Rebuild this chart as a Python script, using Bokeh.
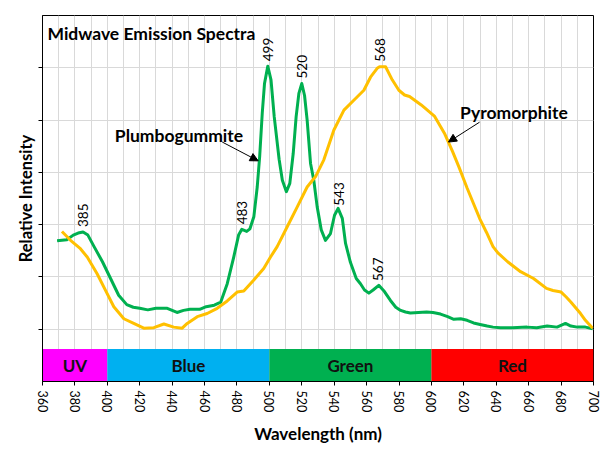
import numpy as np
from bokeh.plotting import figure
from bokeh.models import ColumnDataSource, FixedTicker, Label, Arrow, NormalHead
from bokeh.core.properties import value
from bokeh.embed import file_html
from bokeh.resources import INLINE

# ---------------- data ----------------
plumb_nm = [369, 372, 375, 379, 382, 385, 388, 392, 397, 402, 407, 412, 416, 420, 425,
            430, 437, 443, 447, 451, 457, 461, 466, 470, 474, 478, 481, 483, 486, 488,
            490.4, 492.5, 494, 495.6, 497, 499, 501, 503, 506, 508, 510.5, 512.6, 514.7,
            516.5, 518.2, 520, 521.7, 523.3, 525.4, 527.4, 529.5, 532, 534.6, 537.7,
            540.2, 542.4, 545, 547, 550, 553.6, 556.2, 558.7, 561.4, 564, 567.5, 571,
            574.7, 578, 581, 584, 587, 592, 597, 601, 605.6, 610, 613.8, 618, 622, 626,
            630, 634.4, 638, 642.6, 650, 659, 665, 671.4, 677.5, 682.7, 686, 690, 695,
            699.5]
plumb_val = [1.69, 1.70, 1.71, 1.80, 1.84, 1.86, 1.80, 1.57, 1.29, 0.97, 0.65, 0.47, 0.42,
             0.40, 0.37, 0.40, 0.40, 0.32, 0.36, 0.38, 0.38, 0.43, 0.46, 0.52, 0.87, 1.38,
             1.80, 1.91, 1.87, 1.92, 2.15, 2.72, 3.30, 4.13, 4.70, 5.03, 4.77, 4.06, 3.25,
             2.85, 2.63, 2.79, 3.36, 4.06, 4.51, 4.70, 4.47, 4.00, 3.17, 2.85, 2.34, 1.90,
             1.70, 1.83, 2.18, 2.31, 2.12, 1.64, 1.28, 0.97, 0.87, 0.75, 0.69, 0.75, 0.84,
             0.72, 0.55, 0.42, 0.36, 0.33, 0.31, 0.32, 0.33, 0.32, 0.29, 0.24, 0.19, 0.20,
             0.17, 0.12, 0.09, 0.06, 0.04, 0.03, 0.03, 0.04, 0.03, 0.06, 0.04, 0.11, 0.06,
             0.04, 0.04, 0.01]

pyro_nm = [372, 377.3, 383.4, 387.6, 393.7, 399.9, 404, 410.2, 416.3, 422.5, 428.7, 434.9,
           441, 446.2, 449.3, 455.5, 461.6, 467.8, 474, 480.1, 484.2, 490.4, 496.5, 500.7,
           504.8, 511, 517.2, 523.3, 528.5, 533.6, 539.8, 546, 552.1, 558.3, 562.4, 566.5,
           568, 571.7, 575.8, 579.9, 583.4, 586.5, 593.7, 602, 608, 613, 617, 622, 626,
           630, 634, 638, 641, 647, 655, 663, 671, 675, 680, 683, 686, 692, 695, 699.5]
pyro_val = [1.87, 1.70, 1.54, 1.38, 1.06, 0.68, 0.43, 0.20, 0.11, 0.02, 0.03, 0.10, 0.04,
            0.02, 0.11, 0.24, 0.30, 0.40, 0.54, 0.71, 0.73, 0.94, 1.16, 1.38, 1.58, 1.96,
            2.34, 2.72, 2.92, 3.24, 3.81, 4.19, 4.38, 4.57, 4.82, 4.99, 5.02, 5.02, 4.77,
            4.57, 4.48, 4.45, 4.29, 4.07, 3.75, 3.40, 3.10, 2.70, 2.40, 2.10, 1.85, 1.58,
            1.46, 1.29, 1.10, 0.97, 0.78, 0.74, 0.71, 0.62, 0.52, 0.30, 0.17, 0.02]

plumb_peaks = [385, 483, 499, 520, 543, 567]
pyro_peaks = [568]

band_names = ["UV", "Blue", "Green", "Red"]
band_start = [360, 400, 500, 600]
band_end = [400, 500, 600, 700]
band_colors = ["#FF00FF", "#00B0F0", "#00B050", "#FF0000"]

x_ticks = list(range(360, 701, 20))
x_grid = list(range(360, 701, 10))
y_ticks = [0, 1, 2, 3, 4, 5]

# ---------------- styling ----------------
FONT = "Lato"
GREEN = "#00B050"
YELLOW = "#FFC000"
GRID = "#D9D9D9"
BAND_TOP = -0.38
BAND_BOTTOM = -1.0

p = figure(width=606, height=452, x_range=(360, 700), y_range=(-1, 6),
           output_backend="svg", toolbar_location=None, title=None,
           min_border_left=42, min_border_right=13, min_border_top=15,
           min_border_bottom=71)
p.background_fill_color = "white"
p.border_fill_color = "white"
p.outline_line_color = "black"
p.outline_line_width = 1
p.styles = {"outline": "1px solid #D9D9D9", "outline-offset": "-2px"}

# grid
p.xgrid.ticker = FixedTicker(ticks=x_grid)
p.ygrid.ticker = FixedTicker(ticks=y_ticks)
p.xgrid.grid_line_color = GRID
p.ygrid.grid_line_color = GRID
p.xgrid.grid_line_width = 1
p.ygrid.grid_line_width = 1

# x axis
p.xaxis.ticker = FixedTicker(ticks=x_ticks)
p.xaxis.major_label_orientation = "vertical"
p.xaxis.major_label_text_font = FONT
p.xaxis.major_label_text_font_size = "12.5px"
p.xaxis.major_label_text_color = "black"
p.xaxis.major_label_standoff = 5
p.xaxis.axis_label = "Wavelength (nm)"
p.xaxis.axis_label_text_font = FONT
p.xaxis.axis_label_text_font_style = "bold"
p.xaxis.axis_label_text_font_size = "17px"
p.xaxis.axis_label_text_color = "black"
p.xaxis.axis_label_standoff = 8
p.xaxis.axis_line_color = "black"
p.xaxis.major_tick_line_color = "black"
p.xaxis.major_tick_out = 4
p.xaxis.major_tick_in = 0
p.xaxis.minor_tick_line_color = None

# y axis (ticks only, no tick labels)
p.yaxis.ticker = FixedTicker(ticks=y_ticks)
p.yaxis.major_label_overrides = {t: "" for t in y_ticks}
p.yaxis.major_label_standoff = 0
p.yaxis.axis_label = "Relative Intensity"
p.yaxis.axis_label_text_font = FONT
p.yaxis.axis_label_text_font_style = "bold"
p.yaxis.axis_label_text_font_size = "16.5px"
p.yaxis.axis_label_text_color = "black"
p.yaxis.axis_label_standoff = 3
p.yaxis.axis_line_color = "black"
p.yaxis.major_tick_line_color = "black"
p.yaxis.major_tick_out = 4
p.yaxis.major_tick_in = 0
p.yaxis.minor_tick_line_color = None

# spectrum band
band_src = ColumnDataSource(dict(
    left=band_start, right=band_end, name=band_names, color=band_colors,
    mid=[(a + b) / 2 for a, b in zip(band_start, band_end)],
))
p.quad(left="left", right="right", bottom=BAND_BOTTOM, top=BAND_TOP,
       fill_color="color", line_color=None, source=band_src)
p.text(x="mid", y=(BAND_TOP + BAND_BOTTOM) / 2, text="name", source=band_src,
       text_font=value(FONT), text_font_style="bold", text_font_size="17px",
       text_color="#111111", text_align="center", text_baseline="middle")

# curves
p.line(plumb_nm, plumb_val, line_color=GREEN, line_width=3, line_join="round")
p.line(pyro_nm, pyro_val, line_color=YELLOW, line_width=3, line_join="round")

# peak labels
pk_x = plumb_peaks + pyro_peaks
pk_y = list(np.interp(plumb_peaks, plumb_nm, plumb_val)) + list(np.interp(pyro_peaks, pyro_nm, pyro_val))
pk_src = ColumnDataSource(dict(x=pk_x, y=pk_y, t=[str(v) for v in pk_x]))
p.text(x="x", y="y", text="t", source=pk_src, angle=np.pi / 2,
       text_font=value(FONT), text_font_size="13.5px", text_color="black",
       text_align="left", text_baseline="middle", y_offset=-5)

# title
p.add_layout(Label(x=360, y=6, x_offset=5, y_offset=-7, text="Midwave Emission Spectra",
                   text_font=FONT, text_font_style="bold", text_font_size="17.5px",
                   text_color="black", text_baseline="top", text_align="left"))

# series annotations
p.add_layout(Label(x=444.2, y=3.71, text="Plumbogummite", text_font=FONT,
                   text_font_style="bold", text_font_size="17.5px", text_color="black",
                   text_align="center", text_baseline="middle"))
p.add_layout(Label(x=650.9, y=4.14, text="Pyromorphite", text_font=FONT,
                   text_font_style="bold", text_font_size="17.5px", text_color="black",
                   text_align="center", text_baseline="middle"))
p.add_layout(Arrow(end=NormalHead(size=8, fill_color="black", line_color="black"),
                   x_start=470.9, y_start=3.58, x_end=493.1, y_end=3.22,
                   line_color="black", line_width=1))
p.add_layout(Arrow(end=NormalHead(size=8, fill_color="black", line_color="black"),
                   x_start=629.7, y_start=3.96, x_end=610.5, y_end=3.58,
                   line_color="black", line_width=1))

open("out.html", "w").write(file_html(p, INLINE))
